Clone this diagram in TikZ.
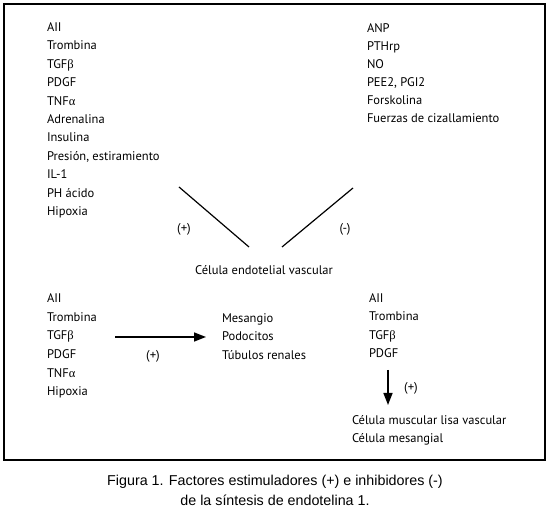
\documentclass[tikz,border=0pt]{standalone}
\usepackage{fontspec}
\setmainfont{PT Sans}
\newfontfamily\capfont{Liberation Sans}
\newfontfamily\grk{Liberation Serif}
\usetikzlibrary{arrows.meta}
\newcommand{\gb}{{\grk β}}
\newcommand{\ga}{{\grk α}}
\begin{document}
\begin{tikzpicture}[x=1pt,y=-1pt,
  every node/.style={inner sep=0pt, outer sep=0pt},
  lbl/.style={anchor=base west, font=\fontsize{12.5}{15}\selectfont},
  sgn/.style={anchor=center, font=\fontsize{12.8}{15}\selectfont},
  captxt/.style={anchor=base, font=\capfont\fontsize{14.3}{17}\selectfont},
  bar/.style={line width=1.2pt},
  arr/.style={line width=1.5pt, -{Triangle[length=12pt,width=9pt]}}]
\useasboundingbox (0,0) rectangle (550,518);
\draw[line width=1.3pt] (4,4) rectangle (545,460);
% top left list
\foreach \t [count=\i] in {AII, Trombina, TGF\gb, PDGF, TNF\ga, Adrenalina, Insulina, {Presión, estiramiento}, IL-1, PH ácido, Hipoxia}
  \node[lbl] (tl\i) at (47,{31.5+18.4*(\i-1)}) {\t};
% top right list
\foreach \t [count=\i] in {ANP, PTHrp, NO, {PEE2, PGI2}, Forskolina, Fuerzas de cizallamiento}
  \node[lbl] (tr\i) at (367,{32.5+18*(\i-1)}) {\t};
% diagonals
\coordinate (d1a) at (179,187); \coordinate (d1b) at (249,247);
\coordinate (d2a) at (353,188); \coordinate (d2b) at (282,247);
\draw[bar] (d1a) -- (d1b);
\draw[bar] (d2a) -- (d2b);
\node[sgn] (p1) at (184,229) {(+)};
\node[sgn] (m1) at (345,229) {(-)};
\node[anchor=base, font=\fontsize{12.5}{15}\selectfont] (cev) at (264,275) {Célula endotelial vascular};
% bottom left list
\foreach \t [count=\i] in {AII, Trombina, TGF\gb, PDGF, TNF\ga, Hipoxia}
  \node[lbl] (bl\i) at (47,{302.5+18.7*(\i-1)}) {\t};
\foreach \t [count=\i] in {Mesangio, Podocitos, Túbulos renales}
  \node[lbl] (bm\i) at (222,{322.5+18.5*(\i-1)}) {\t};
\coordinate (h1) at (115,337); \coordinate (h2) at (206,337);
\draw[arr] (h1) -- (h2);
\node[sgn] (p2) at (153,356) {(+)};
% bottom right list
\foreach \t [count=\i] in {AII, Trombina, TGF\gb, PDGF}
  \node[lbl] (br\i) at (369,{302.5+18.4*(\i-1)}) {\t};
\coordinate (v1) at (388,370); \coordinate (v2) at (388,405);
\draw[arr] (v1) -- (v2);
\node[sgn] (p3) at (411,388) {(+)};
\node[lbl] (c1) at (352,424.5) {Célula muscular lisa vascular};
\node[lbl] (c2) at (352,442.5) {Célula mesangial};
% caption
\node[captxt] (cap1) at (275,486) {Figura 1. Factores estimuladores (+) e inhibidores (-)};
\node[captxt] (cap2) at (275,506) {de la síntesis de endotelina 1.};
\end{tikzpicture}
\end{document}
